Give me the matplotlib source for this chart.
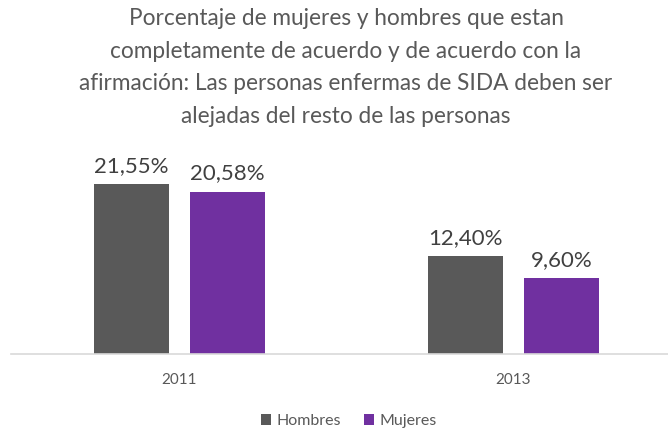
import matplotlib
matplotlib.use("agg")

import matplotlib.pyplot as plt
import numpy as np

# Data
years = ["2011", "2013"]
hombres = [21.55, 12.40]
mujeres = [20.58, 9.60]
series_names = ["Hombres", "Mujeres"]
colors = ["#595959", "#7030A0"]

plt.rcParams["font.family"] = ["Lato", "DejaVu Sans"]

fig = plt.figure(figsize=(6.68, 4.30), dpi=100)
ax = fig.add_axes([11 / 668, 0.1779, 1 - 11 / 668, 0.4573])

x = np.arange(len(years))
w = 0.2246
off = 0.1437
b1 = ax.bar(x - off, hombres, w, color=colors[0], label=series_names[0])
b2 = ax.bar(x + off, mujeres, w, color=colors[1], label=series_names[1])

for bars, vals in ((b1, hombres), (b2, mujeres)):
    for rect, v in zip(bars, vals):
        ax.annotate(f"{v:.2f}%".replace(".", ","),
                    (rect.get_x() + rect.get_width() / 2, v),
                    xytext=(0, 6), textcoords="offset points",
                    ha="center", va="bottom", fontsize=16, color="#404040")

ax.set_xlim(-0.5045, 1.4626)
ax.set_ylim(0, 25)
ax.set_xticks(x)
ax.set_xticklabels(years, fontsize=11, color="#595959")
ax.tick_params(axis="x", length=0, pad=14)
ax.set_yticks([])
for s in ["top", "right", "left"]:
    ax.spines[s].set_visible(False)
ax.spines["bottom"].set_color("#D9D9D9")
ax.spines["bottom"].set_linewidth(1.2)

fig.text(346 / 668, 1 - 8 / 430,
         "Porcentaje de mujeres y hombres que estan\n"
         "completamente de acuerdo y de acuerdo con la\n"
         "afirmación: Las personas enfermas de SIDA deben ser\n"
         "alejadas del resto de las personas",
         ha="center", va="top", fontsize=16.3, color="#595959", linespacing=1.68)

fig.legend(handles=[b1, b2], labels=series_names, loc="center",
           bbox_to_anchor=(349 / 668, 1 - 421 / 430), ncol=2, frameon=False,
           fontsize=11.5, labelcolor="#595959", handlelength=0.62, handleheight=0.62,
           handletextpad=0.35, columnspacing=1.4)

fig.savefig("out.png", dpi=100)
